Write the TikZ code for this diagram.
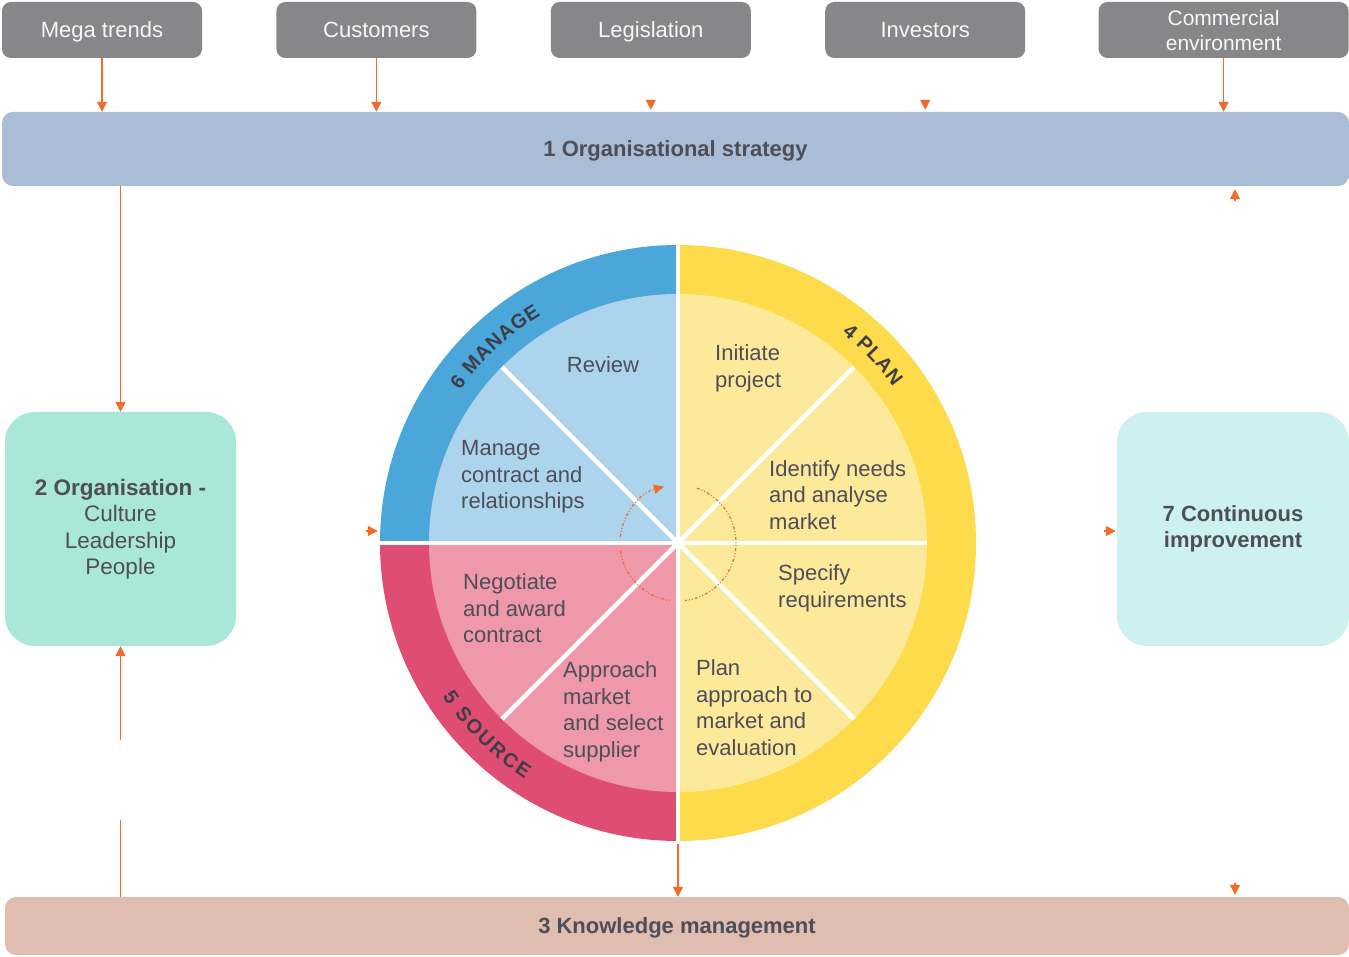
\documentclass[tikz,border=0pt]{standalone}
\usepackage{fontspec}
\setmainfont{Liberation Sans}
\usetikzlibrary{arrows.meta,positioning,calc,decorations.text}
\definecolor{topgray}{RGB}{135,135,137}
\definecolor{stratblue}{RGB}{169,189,215}
\definecolor{orgmint}{RGB}{169,231,217}
\definecolor{improvecyan}{RGB}{205,241,240}
\definecolor{knowpink}{RGB}{223,189,177}
\definecolor{manring}{RGB}{75,166,217}
\definecolor{manfill}{RGB}{172,212,236}
\definecolor{srcring}{RGB}{224,77,115}
\definecolor{srcfill}{RGB}{238,152,170}
\definecolor{planring}{RGB}{254,219,74}
\definecolor{planfill}{RGB}{253,233,154}
\definecolor{flowor}{RGB}{242,107,44}
\definecolor{inkgray}{RGB}{78,78,88}

\begin{document}
\begin{tikzpicture}[
    x=1pt, y=1pt,
    node distance=74pt,
    topbox/.style={rectangle, rounded corners=9pt, fill=topgray, text=white!94!gray, align=center, font=\fontsize{22}{25}\selectfont, minimum width=200pt, minimum height=56pt, inner sep=0pt, text depth=0pt},
    band/.style={rectangle, rounded corners=11pt, text=inkgray, font=\bfseries\fontsize{22}{26}\selectfont, inner sep=0pt, text depth=0pt},
    sidebox/.style={rectangle, rounded corners=30pt, text=inkgray, align=center, font=\fontsize{22.5}{26.5}\selectfont, minimum width=231pt, minimum height=234pt, inner sep=0pt},
    seglabel/.style={text=inkgray, align=left, anchor=west, font=\fontsize{22}{26.5}\selectfont, inner sep=0pt},
    divider/.style={white, line width=4.5pt},
    flow/.style={flowor, line width=1.3pt, -{Triangle[length=10pt,width=10pt]}},
    flowline/.style={flowor, line width=1.3pt},
    cycleflow/.style={flowor, line width=1.2pt, dash pattern=on 3pt off 2pt on 1pt off 2pt on 1pt off 2pt},
    ringtext/.style={decorate, decoration={text along path, text align={fit to path}, text color=inkgray!80!black}}
]
    \useasboundingbox (0,0) rectangle (1349,956);

    % drivers along the top
    \node[topbox] (mega) at (102,926) {Mega trends};
    \node[topbox, right=of mega] (cust) {Customers};
    \node[topbox, right=of cust] (legis) {Legislation};
    \node[topbox, right=of legis] (invest) {Investors};
    \node[topbox, right=73pt of invest, minimum width=250pt, font=\fontsize{21}{25}\selectfont] (comm) {Commercial\\environment};

    % bands and side boxes
    \node[band, fill=stratblue, minimum width=1347pt, minimum height=74pt] (strategy) at (675.5,807) {1 Organisational strategy};
    \node[band, fill=knowpink, minimum width=1344pt, minimum height=58pt] (knowledge) at (677,30) {3 Knowledge management};
    \node[sidebox, fill=orgmint] (org) at (120.5,427) {{\bfseries 2 Organisation -}\\Culture\\Leadership\\People};
    \node[sidebox, fill=improvecyan, minimum width=232pt, font=\bfseries\fontsize{22}{26}\selectfont] (improve) at (1233,427) {7 Continuous\\improvement};

    % the wheel
    \node[circle, minimum size=596pt, inner sep=0pt] (wheel) at (678,413) {};
    \coordinate (hub) at (wheel.center);
    \fill[manring] (hub) -- ++(90:298) arc[start angle=90, end angle=180, radius=298] -- cycle;
    \fill[srcring] (hub) -- ++(180:298) arc[start angle=180, end angle=270, radius=298] -- cycle;
    \fill[planring] (hub) -- ++(270:298) arc[start angle=270, end angle=450, radius=298] -- cycle;
    \fill[manfill] (hub) -- ++(90:249) arc[start angle=90, end angle=180, radius=249] -- cycle;
    \fill[srcfill] (hub) -- ++(180:249) arc[start angle=180, end angle=270, radius=249] -- cycle;
    \fill[planfill] (hub) -- ++(270:249) arc[start angle=270, end angle=450, radius=249] -- cycle;
    \draw[divider] (wheel.north) -- (wheel.south);
    \draw[divider] (hub) -- (wheel.west);
    \foreach \a in {0,45,135,225,315}
        \draw[divider] (hub) -- ++(\a:249);

    % stage names on the ring
    \path[ringtext, decoration={text={|\bfseries\fontsize{20}{20}\selectfont|6 MANAGE}}]
        (hub) ++(145:266) arc[start angle=145, end angle=121, radius=266];
    \path[ringtext, decoration={text={|\bfseries\fontsize{20}{20}\selectfont|4 PLAN}}]
        (hub) ++(52:266) arc[start angle=52, end angle=36, radius=266];
    \path[ringtext, decoration={text={|\bfseries\fontsize{20}{20}\selectfont|5 SOURCE}}]
        (hub) ++(213:281) arc[start angle=213, end angle=237, radius=281];

    % steps
    \node[seglabel, anchor=center] (review) at (603,591) {Review};
    \node[seglabel] (initiate) at (715,587.5) {Initiate\\project};
    \node[seglabel] (identify) at (769,461) {Identify needs\\and analyse\\market};
    \node[seglabel] (specify) at (778,367.5) {Specify\\requirements};
    \node[seglabel] (approachplan) at (696,248.5) {Plan\\approach to\\market and\\evaluation};
    \node[seglabel] (managec) at (461,479) {Manage\\contract and\\relationships};
    \node[seglabel] (negotiate) at (463,347.5) {Negotiate\\and award\\contract};
    \node[seglabel] (approachmkt) at (563,244) {Approach\\market\\and select\\supplier};

    % cycle in the middle
    \draw[cycleflow, -{Triangle[length=10pt,width=9pt]}] (hub) ++(174:58) arc[start angle=174, end angle=104, radius=58];
    \draw[cycleflow] (hub) ++(188:58) arc[start angle=188, end angle=264, radius=58];
    \draw[cycleflow] (hub) ++(71:58) arc[start angle=71, end angle=-83, radius=58];

    % connectors
    \draw[flow] (mega) -- (mega |- strategy.north);
    \draw[flow] (cust) -- (cust |- strategy.north);
    \draw[flow] (comm) -- (comm |- strategy.north);
    \coordinate (legtail) at ([yshift=12pt]legis |- strategy.north);
    \coordinate (invtail) at ([yshift=12pt]invest |- strategy.north);
    \draw[flow, shorten >=2pt] (legtail) -- (legis |- strategy.north);
    \draw[flow, shorten >=2pt] (invtail) -- (invest |- strategy.north);

    \draw[flow] (strategy.south -| org.north) -- (org.north);
    \coordinate (kbreak) at (120.5,136);
    \coordinate (krise) at (120.5,216);
    \draw[flowline] (knowledge.north -| kbreak) -- (kbreak);
    \draw[flow] (krise) -- (org.south);

    \draw[flow] ([yshift=-3pt]wheel.south) -- (knowledge.north -| wheel.south);

    \coordinate (wtail) at (366,425);
    \draw[flow, shorten >=2pt] (wtail) -- (wheel.west |- wtail);
    \coordinate (itail) at (1104,425);
    \draw[flow, shorten >=1pt] (itail) -- (improve.west |- itail);

    \coordinate (uptail) at (1235,755);
    \draw[flow, shorten >=3pt] (uptail) -- (strategy.south -| uptail);
    \coordinate (dntail) at (1235,73);
    \draw[flow, shorten >=2pt] (dntail) -- (knowledge.north -| dntail);
\end{tikzpicture}
\end{document}
